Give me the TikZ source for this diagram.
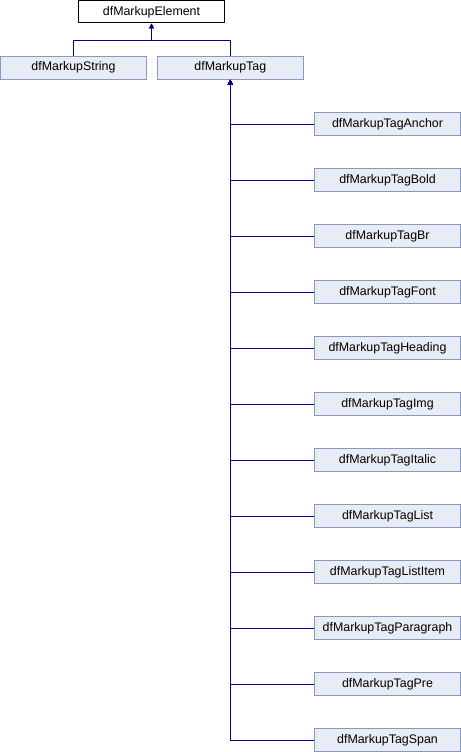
\documentclass[tikz,border=0pt]{standalone}
\usepackage{fontspec}
\setmainfont{Liberation Sans}
\usetikzlibrary{positioning, arrows.meta}
\usepackage{xcolor}
\definecolor{classfill}{RGB}{232,236,245}
\definecolor{classdraw}{RGB}{132,154,196}
\definecolor{inheritcolor}{RGB}{0,0,140}

\begin{document}
\begin{tikzpicture}[x=1bp, y=-1bp]
  \tikzset{
    baseclass/.style={
      draw=black,
      line width=1bp,
      minimum width=146bp,
      minimum height=22bp,
      anchor=center,
      inner sep=0pt,
      fill=white,
      font=\fontsize{12.4bp}{14bp}\selectfont
    },
    subclass/.style={
      draw=classdraw,
      line width=1bp,
      minimum width=146bp,
      minimum height=23bp,
      anchor=center,
      inner sep=0pt,
      fill=classfill,
      font=\fontsize{12.4bp}{14bp}\selectfont
    },
    inherit/.style={
      draw=inheritcolor,
      line width=1bp,
      -{Triangle[length=5bp, width=5bp]}
    }
  }
  \useasboundingbox (0,0) rectangle (461,752);

  % Base class and its two direct children
    \node[baseclass] at (151.5, 12) (element) {dfMarkupElement};
    \node[subclass] at (73.5, 67.7) (string) {dfMarkupString};
    \node[subclass] at (230.3, 67.7) (tag) {dfMarkupTag};
    \coordinate (split) at (151.5, 40.7);

  % Children of dfMarkupTag
    \node[subclass] at (387.5, 124) (tag0) {dfMarkupTagAnchor};
    \node[subclass] at (387.5, 180) (tag1) {dfMarkupTagBold};
    \node[subclass] at (387.5, 236) (tag2) {dfMarkupTagBr};
    \node[subclass] at (387.5, 292) (tag3) {dfMarkupTagFont};
    \node[subclass] at (387.5, 348) (tag4) {dfMarkupTagHeading};
    \node[subclass] at (387.5, 404) (tag5) {dfMarkupTagImg};
    \node[subclass] at (387.5, 460) (tag6) {dfMarkupTagItalic};
    \node[subclass] at (387.5, 516) (tag7) {dfMarkupTagList};
    \node[subclass] at (387.5, 572) (tag8) {dfMarkupTagListItem};
    \node[subclass] at (387.5, 628) (tag9) {dfMarkupTagParagraph};
    \node[subclass] at (387.5, 684) (tag10) {dfMarkupTagPre};
    \node[subclass] at (387.5, 740) (tag11) {dfMarkupTagSpan};

  % Inheritance lines
    \draw[inherit] (string.north) |- (split) -- (element.south);
    \draw[inherit] (tag.north) |- (split) -- (element.south);
    \foreach \i in {0,...,11} {
      \draw[inherit] (tag\i.west) -| (tag.south);
    }

\end{tikzpicture}
\end{document}
